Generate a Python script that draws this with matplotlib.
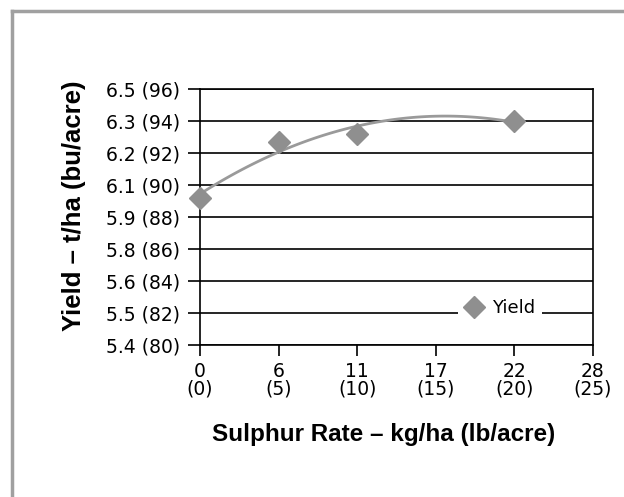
import numpy as np
import matplotlib
matplotlib.use("Agg")
import matplotlib.pyplot as plt
from matplotlib.lines import Line2D

# axis ticks: kg/ha with lb/acre in brackets, t/ha with bu/acre in brackets
rate_kg = [0, 6, 11, 17, 22, 28]
rate_lb = [0, 5, 10, 15, 20, 25]
yield_t = [5.4, 5.5, 5.6, 5.8, 5.9, 6.1, 6.2, 6.3, 6.5]
yield_bu = [80, 82, 84, 86, 88, 90, 92, 94, 96]

# measured points (lb/acre, bu/acre)
pts_lb = [0, 5, 10, 20]
pts_bu = [89.2, 92.7, 93.2, 94.0]

grey = "#8f8f8f"
plt.rcParams['font.family'] = ['DejaVu Sans']

fig = plt.figure(figsize=(6.24, 4.97), dpi=100)
ax = fig.add_axes([200/624, 1-345/497, 393/624, 256/497])

# quadratic trend line like the spreadsheet one
c = np.polyfit(pts_lb, pts_bu, 2)
xx = np.linspace(0, 20, 100)
ax.plot(xx, np.polyval(c, xx), color="#9a9a9a", lw=2, zorder=2)
ax.plot(pts_lb, pts_bu, "D", color=grey, ms=11, ls="none", label="Yield",
        zorder=3, clip_on=False)

ax.set_xlim(0, 25)
ax.set_ylim(80, 96)
ax.set_xticks(rate_lb)
ax.set_xticklabels([f"{k}\n({l})" for k, l in zip(rate_kg, rate_lb)],
                   fontsize=13.5, linespacing=0.9)
ax.set_yticks(yield_bu)
ax.set_yticklabels([f"{t} ({b})" for t, b in zip(yield_t, yield_bu)], fontsize=13.5)
ax.yaxis.grid(True, color="black", lw=1.2)
ax.set_axisbelow(True)
for s in ax.spines.values():
    s.set_linewidth(1.2)
ax.tick_params(axis="x", length=8, width=1.2, pad=4)
ax.tick_params(axis="y", length=8.5, width=1.2, pad=6)

lab = dict(fontweight="bold", family=['Liberation Sans', 'DejaVu Sans'])
ax.set_xlabel("Sulphur Rate – kg/ha (lb/acre)", fontsize=17.5, **lab)
ax.set_ylabel("Yield – t/ha (bu/acre)", fontsize=18.5, **lab)
ax.xaxis.set_label_coords(0.466, -0.305)
ax.yaxis.set_label_coords(-0.29, 0.543)

leg = ax.legend(loc="center", bbox_to_anchor=(0.763, 0.145), frameon=True,
                facecolor="white", edgecolor="none", framealpha=1,
                fontsize=13, handletextpad=0.5, borderpad=0.4,
                borderaxespad=0, handlelength=1.0, fancybox=False)

# grey frame around the figure (left and top only visible)
fig.add_artist(Line2D([12/624, 12/624], [0, 1-11/497], color="#a0a0a0", lw=2.5))
fig.add_artist(Line2D([12/624, 1], [1-11/497, 1-11/497], color="#a0a0a0", lw=2.5))

fig.savefig("out.png", dpi=100)
